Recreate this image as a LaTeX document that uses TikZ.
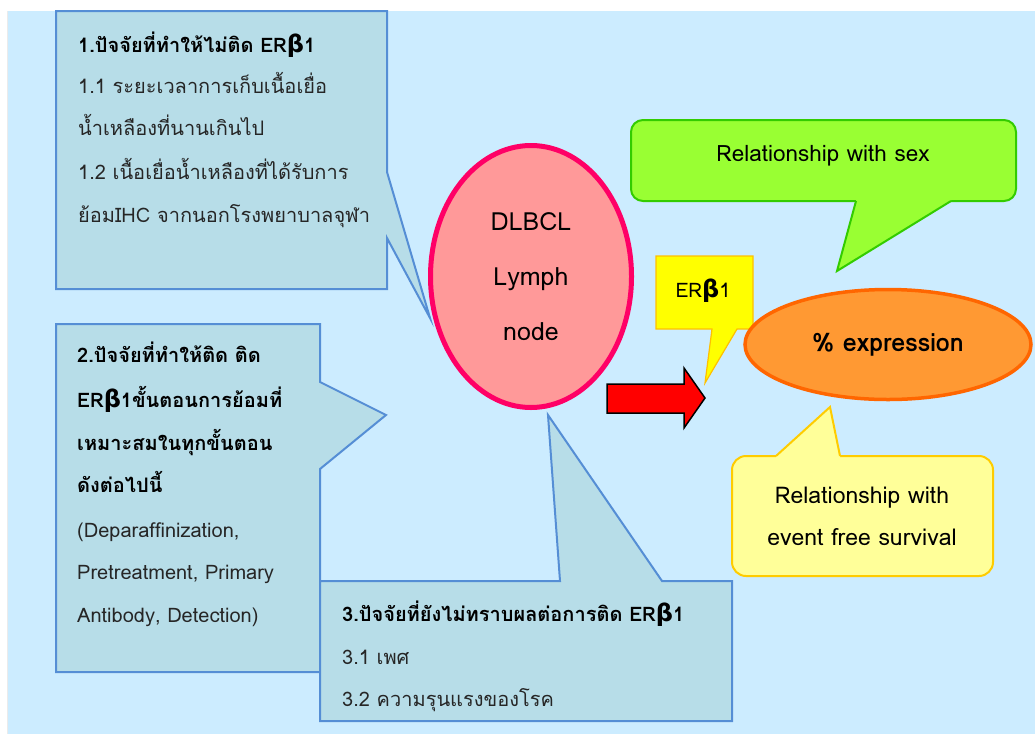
\documentclass[tikz,border=0pt]{standalone}
\usepackage{fontspec}
\newfontfamily\thaifont[Script=Thai]{Loma}
\newfontfamily\grkfont{DejaVu Sans}
\usetikzlibrary{shapes.geometric}
\definecolor{bgblue}{HTML}{CCECFF}
\definecolor{boxfill}{HTML}{B7DDE8}
\definecolor{boxline}{HTML}{558ED5}
\definecolor{pinkfill}{HTML}{FF9999}
\definecolor{pinkline}{HTML}{FF0066}
\definecolor{orfill}{HTML}{FF9933}
\definecolor{orline}{HTML}{FF6600}
\definecolor{grfill}{HTML}{99FF33}
\definecolor{grline}{HTML}{33CC00}
\definecolor{ltyfill}{HTML}{FFFF99}
\definecolor{ltyline}{HTML}{FFCC00}
\definecolor{yfill}{HTML}{FFFF00}
\definecolor{yline}{HTML}{FFC000}
\newcommand{\bet}{{\grkfont\bfseries\fontsize{24}{24}\selectfont β}}
\begin{document}
\begin{tikzpicture}[x=1pt,y=-1pt,
  factorbox/.style={fill=boxfill,draw=boxline,line width=2pt,line join=miter},
  ln/.style={anchor=base west,inner sep=0pt,text=black!85,font=\thaifont\fontsize{20}{24}\selectfont},
  lnb/.style={ln,text=black,font=\thaifont\bfseries\fontsize{20}{24}\selectfont},
  ctext/.style={inner sep=0pt,align=center,text=black}]
\useasboundingbox (0,0) rectangle (1035,734);
\fill[white] (0,0) rectangle (1035,734);
\fill[bgblue] (8,11) rectangle (1035,734);
\draw[black!8,line width=1pt] (7.5,11) -- (7.5,734);

% box 1
\path[factorbox] (56,11) -- (387,11) -- (387,172) -- (430,318) -- (387,238) -- (387,289) -- (56,289) -- cycle;
\node[lnb] (b1t) at (78,52) {1.ปัจจัยที่ทำให้ไม่ติด ER\bet1};
\node[ln] (b1a) at (78,93) {1.1 ระยะเวลาการเก็บเนื้อเยื่อ};
\node[ln] (b1b) at (78,135) {น้ำเหลืองที่นานเกินไป};
\node[ln] (b1c) at (78,179) {1.2 เนื้อเยื่อน้ำเหลืองที่ได้รับการ};
\node[ln] (b1d) at (78,222) {ย้อมIHC จากนอกโรงพยาบาลจุฬา};

% box 2
\path[factorbox] (56,324) -- (320,324) -- (320,382) -- (386,415) -- (320,469) -- (320,672) -- (56,672) -- cycle;
\node[lnb] (b2t) at (77,362) {2.ปัจจัยที่ทำให้ติด ติด};
\node[lnb] (b2a) at (77,407) {ER\bet1ขั้นตอนการย้อมที่};
\node[lnb] (b2b) at (77,450) {เหมาะสมในทุกขั้นตอน};
\node[lnb] (b2c) at (77,492) {ดังต่อไปนี้};
\node[ln] (b2d) at (77,537) {(Deparaffinization,};
\node[ln] (b2e) at (77,579) {Pretreatment, Primary};
\node[ln] (b2f) at (77,622) {Antibody, Detection)};

% box 3
\path[factorbox] (320,581) -- (560,581) -- (548,415) -- (662,581) -- (732,581) -- (732,721) -- (320,721) -- cycle;
\node[lnb] (b3t) at (342,621) {3.ปัจจัยที่ยังไม่ทราบผลต่อการติด ER\bet1};
\node[ln] (b3a) at (342,664) {3.1 เพศ};
\node[ln] (b3b) at (342,706) {3.2 ความรุนแรงของโรค};

% DLBCL ellipse
\node[ellipse,fill=pinkfill,draw=pinkline,line width=5pt,minimum width=201pt,minimum height=262pt,
  align=center,font=\thaifont\fontsize{25}{55}\selectfont] (dlbcl) at (531,276.5) {DLBCL\\Lymph\\node};

% red arrow
\path[fill=red,draw=black,line width=1.5pt,line join=miter] (607,384) -- (684,384) -- (684,368) -- (705,398) -- (684,428) -- (684,413) -- (607,413) -- cycle;

% ER beta callout
\path[fill=yfill,draw=yline,line width=1.2pt,line join=miter] (656,256) -- (753,256) -- (753,329) -- (737,329) -- (705,383) -- (712,329) -- (656,329) -- cycle;
\node[ctext,font=\thaifont\fontsize{20}{20}\selectfont] (erb) at (703,291) {ER\bet1};

% green callout
\path[fill=grfill,draw=grline,line width=2pt,rounded corners=12pt] (631,120) rectangle (1016,201);
\fill[grfill] (856,197) -- (951,197) -- (951,201) -- (837,271) -- (856,201) -- cycle;
\draw[grline,line width=2pt,line join=miter] (856,201) -- (837,271) -- (951,201);
\node[ctext,font=\thaifont\fontsize{22.5}{24}\selectfont] (sex) at (823,156) {Relationship with sex};

% orange ellipse
\node[ellipse,fill=orfill,draw=orline,line width=3.5pt,minimum width=286pt,minimum height=110pt,
  font=\thaifont\bfseries\fontsize{25}{26}\selectfont] (expr) at (888,344.5) {\% expression};

% light yellow callout
\path[fill=ltyfill,draw=ltyline,line width=2pt,rounded corners=14pt] (732,456) rectangle (993,576);
\fill[ltyfill] (776,460) -- (840,460) -- (840,456) -- (830,407) -- (776,456) -- cycle;
\draw[ltyline,line width=2pt,line join=miter] (776,456) -- (830,407) -- (840,456);
\node[ctext,font=\thaifont\fontsize{23}{42}\selectfont] (efs) at (862,516) {Relationship with\\event free survival};
\end{tikzpicture}
\end{document}
